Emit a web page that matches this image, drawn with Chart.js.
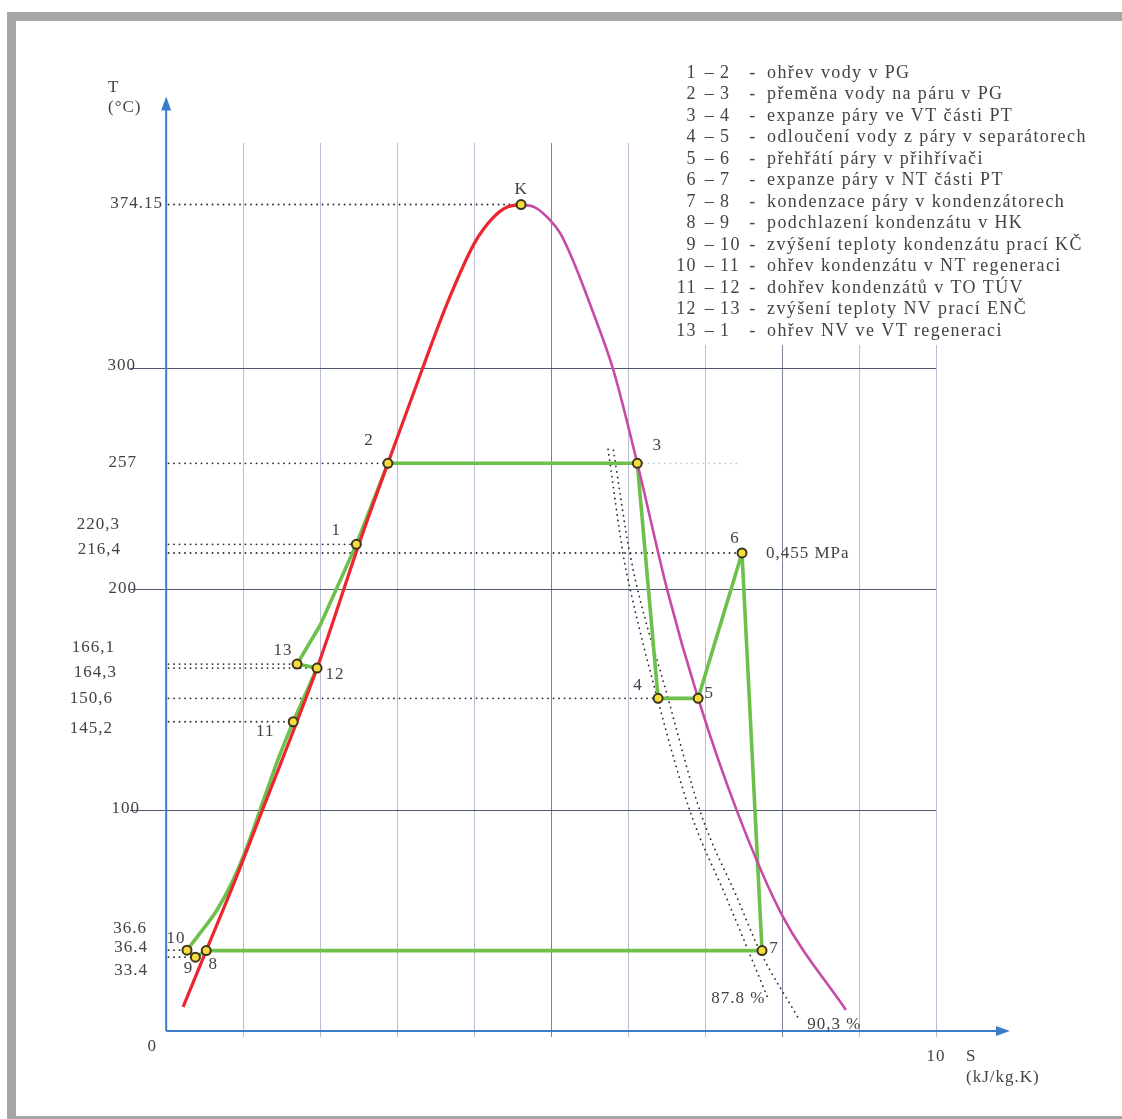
<!DOCTYPE html>
<html>
<head>
<meta charset="utf-8">
<title>T-s diagram</title>
<script src="https://cdn.jsdelivr.net/npm/chart.js@4.4.1/dist/chart.umd.min.js"></script>
<style>
  html, body { margin: 0; padding: 0; background: #fff; }
  #wrap { width: 1122px; height: 1119px; }
</style>
</head>
<body>
<div id="wrap"><canvas id="ts-chart" width="1122" height="1119"></canvas></div>
<script>
// saturated liquid line (s in kJ/kg.K, T in °C)
const liquidS = [0.22, 0.52, 0.87, 1.25, 1.96, 2.52, 2.88, 3.32, 3.65, 4.01, 4.25, 4.43, 4.61];
const liquidT = [10.9, 36.4, 66, 100, 164.3, 222, 257, 299, 329.4, 357, 368.3, 373, 374.15];

// saturated vapour line
const vapourS = [4.61, 4.79, 4.99, 5.12, 5.29, 5.55, 5.81, 6.12, 6.51, 6.91, 7.42, 8.00, 8.83];
const vapourT = [374.15, 372.9, 367, 361.1, 348.4, 324.9, 299.1, 257, 199.5, 150.6, 99.1, 52.5, 9.5];

// state points of the cycle
const stateNames = ['K', '1', '2', '3', '4', '5', '6', '7', '8', '9', '10', '11', '12', '13'];
const stateS = [4.61, 2.47, 2.88, 6.12, 6.39, 6.91, 7.48, 7.74, 0.52, 0.38, 0.27, 1.65, 1.96, 1.70];
const stateT = [374.15, 220.3, 257, 257, 150.6, 150.6, 216.4, 36.4, 36.4, 33.4, 36.6, 140, 164.3, 166.1];

// cycle path 11-12-13-1-2-3-4-5-6-7-8-9-10 (straight parts)
const cycleS = [1.65, 1.96, 1.70, 2.00, 2.47, 2.88, 6.12, 6.39, 6.91, 7.48, 7.74, 0.52, 0.38, 0.27];
const cycleT = [140, 164.3, 166.1, 183.7, 220.3, 257, 257, 150.6, 150.6, 216.4, 36.4, 36.4, 33.4, 36.6];

// curved part 10-11 (NT regeneration)
const regenS = [0.27, 0.44, 0.66, 0.87, 1.05, 1.22, 1.45, 1.65];
const regenT = [36.6, 44.3, 54.8, 68.3, 83.3, 100, 122.6, 140];

// lines of constant dryness
const dry878S = [5.74, 5.94, 6.03, 6.38, 6.81, 7.29, 7.81];
const dry878T = [263.3, 214.9, 199.5, 150.6, 99, 59.3, 15.4];
const dry903S = [5.81, 6.03, 6.52, 6.94, 7.43, 7.71, 8.21];
const dry903T = [262.9, 214.9, 150.6, 99, 59.3, 36.4, 5.9];

// dotted guides from the T axis to these states
const guideStates = ['K', '2', '1', '6', '13', '12', '4', '11', '10', '9'];
const faintGuideS = [6.12, 7.42];
const faintGuideT = [257, 257];

// axis labels
const sTicks = [0, 1, 2, 3, 4, 5, 6, 7, 8, 9, 10];
const tGrid = [100, 200, 300];
const tLabelValues = [374.15, 300, 257, 220.3, 216.4, 200, 166.1, 164.3, 150.6, 145.2, 100, 36.6, 36.4, 33.4];
const tLabels = ['374.15', '300', '257', '220,3', '216,4', '200', '166,1', '164,3', '150,6', '145,2', '100', '36.6', '36.4', '33.4'];

// legend
const legendFrom = ['1', '2', '3', '4', '5', '6', '7', '8', '9', '10', '11', '12', '13'];
const legendTo = ['2', '3', '4', '5', '6', '7', '8', '9', '10', '11', '12', '13', '1'];
const legendText = [
    'ohřev vody v PG',
    'přeměna vody na páru v PG',
    'expanze páry ve VT části PT',
    'odloučení vody z páry v separátorech',
    'přehřátí páry v přihřívači',
    'expanze páry v NT části PT',
    'kondenzace páry v kondenzátorech',
    'podchlazení kondenzátu v HK',
    'zvýšení teploty kondenzátu prací KČ',
    'ohřev kondenzátu v NT regeneraci',
    'dohřev kondenzátů v TO TÚV',
    'zvýšení teploty NV prací ENČ',
    'ohřev NV ve VT regeneraci'
];

function pts(xs, ys) {
    return xs.map((x, i) => ({ x: x, y: ys[i] }));
}

const FONT = '17px "Liberation Serif", "Times New Roman", serif';
const LEGEND_FONT = '18px "Liberation Serif", "Times New Roman", serif';
const TEXT = '#434343';

// label nudges (px) so the scanned layout is kept
const tLabelPlace = {
    '374.15': [163, -1], '300': [136, -3], '257': [137, -1], '220,3': [120, -20],
    '216,4': [121, -3], '200': [137, -1], '166,1': [115, -17], '164,3': [117, 4],
    '150,6': [113, 0], '145,2': [113, 18], '100': [140, -2], '36.6': [147, -22],
    '36.4': [148, -3], '33.4': [148, 13]
};
const stateLabelOffset = {
    'K': [0, -15], '1': [-20, -14], '2': [-19, -23], '3': [20, -18], '4': [-20, -13],
    '5': [11, -5], '6': [-7, -14], '7': [12, -2], '8': [7, 14], '9': [-7, 11],
    '10': [-11, -12], '11': [-28, 10], '12': [18, 6], '13': [-14, -14]
};

const tsDecor = {
    id: 'tsDecor',
    beforeDraw(chart) {
        const ctx = chart.ctx;
        ctx.save();
        ctx.fillStyle = '#fff';
        ctx.fillRect(0, 0, chart.width, chart.height);
        ctx.fillStyle = '#a6a6a6';
        ctx.fillRect(7, 12, chart.width - 7, 9);
        ctx.fillRect(7, 12, 9, chart.height - 12);
        ctx.fillRect(7, chart.height - 3, chart.width - 7, 3);
        ctx.restore();
    },
    afterDatasetsDraw(chart) {
        const ctx = chart.ctx;
        const xs = chart.scales.x, ys = chart.scales.y;
        const x0 = xs.getPixelForValue(0), y0 = ys.getPixelForValue(0);
        const yTop = ys.getPixelForValue(423);
        const xEnd = xs.getPixelForValue(10.96);
        ctx.save();
        ctx.strokeStyle = '#3b7bcb';
        ctx.fillStyle = '#3b7bcb';
        ctx.lineWidth = 2;
        ctx.beginPath();
        ctx.moveTo(x0, y0);
        ctx.lineTo(x0, yTop + 10);
        ctx.moveTo(x0, y0);
        ctx.lineTo(xEnd - 10, y0);
        ctx.stroke();
        ctx.beginPath();
        ctx.moveTo(x0, yTop);
        ctx.lineTo(x0 - 5, yTop + 14);
        ctx.lineTo(x0 + 5, yTop + 14);
        ctx.closePath();
        ctx.moveTo(xEnd, y0);
        ctx.lineTo(xEnd - 14, y0 - 5);
        ctx.lineTo(xEnd - 14, y0 + 5);
        ctx.closePath();
        ctx.fill();
        ctx.restore();
    },
    afterDraw(chart) {
        const ctx = chart.ctx;
        const xs = chart.scales.x, ys = chart.scales.y;
        ctx.save();
        ctx.font = FONT;
        ctx.fillStyle = TEXT;
        ctx.textBaseline = 'middle';
        ctx.letterSpacing = '1px';

        // T axis labels
        ctx.textAlign = 'right';
        tLabels.forEach((lab, i) => {
            const p = tLabelPlace[lab];
            ctx.fillText(lab, p[0], ys.getPixelForValue(tLabelValues[i]) + p[1]);
        });

        // axis names
        ctx.textAlign = 'left';
        ctx.fillText('T', 108, 88);
        ctx.fillText('(°C)', 108, 108);
        ctx.fillText('S', 966, 1057);
        ctx.fillText('(kJ/kg.K)', 966, 1078);
        ctx.textAlign = 'center';
        ctx.fillText('0', xs.getPixelForValue(0) - 14, ys.getPixelForValue(0) + 16);
        ctx.fillText('10', xs.getPixelForValue(10), ys.getPixelForValue(0) + 26);

        // state labels
        stateNames.forEach((n, i) => {
            const o = stateLabelOffset[n];
            ctx.fillText(n, xs.getPixelForValue(stateS[i]) + o[0], ys.getPixelForValue(stateT[i]) + o[1]);
        });

        // pressure and dryness notes
        const i6 = stateNames.indexOf('6');
        ctx.textAlign = 'left';
        ctx.fillText('0,455 MPa', xs.getPixelForValue(stateS[i6]) + 24, ys.getPixelForValue(stateT[i6]) + 1);
        const n1 = dry878S.length - 1, n2 = dry903S.length - 1;
        ctx.textAlign = 'right';
        ctx.fillText('87.8 %', xs.getPixelForValue(dry878S[n1]) - 2, ys.getPixelForValue(dry878T[n1]) + 2);
        ctx.textAlign = 'left';
        ctx.fillText('90,3 %', xs.getPixelForValue(dry903S[n2]) + 9, ys.getPixelForValue(dry903T[n2]) + 7);

        // legend block
        ctx.letterSpacing = '0px';
        ctx.fillStyle = '#fff';
        ctx.fillRect(665, 55, 440, 290);
        ctx.fillStyle = TEXT;
        ctx.font = LEGEND_FONT;
        ctx.letterSpacing = '1.4px';
        legendText.forEach((t, i) => {
            const y = 73 + i * 21.5;
            ctx.textAlign = 'right';
            ctx.fillText(legendFrom[i], 697, y);
            ctx.textAlign = 'center';
            ctx.fillText('–', 710, y);
            ctx.fillText('-', 753, y);
            ctx.textAlign = 'left';
            ctx.fillText(legendTo[i], 720, y);
            ctx.fillText(t, 767, y);
        });
        ctx.restore();
    }
};

const dotted = {
    showLine: true,
    pointRadius: 0,
    borderColor: '#2e2e2e',
    borderWidth: 1.8,
    borderDash: [0.1, 5.4],
    borderCapStyle: 'round',
    order: 4
};

const guideSets = guideStates.map(name => {
    const i = stateNames.indexOf(name);
    return Object.assign({}, dotted, {
        data: [{ x: 0.03, y: stateT[i] }, { x: stateS[i], y: stateT[i] }]
    });
});

const green = {
    showLine: true,
    pointRadius: 0,
    borderColor: '#6dc04b',
    borderWidth: 3.6,
    borderJoinStyle: 'round',
    borderCapStyle: 'round',
    order: 2
};

new Chart(document.getElementById('ts-chart'), {
    type: 'scatter',
    data: {
        datasets: [
            {
                data: pts(stateS, stateT),
                showLine: false,
                pointRadius: 4.5,
                pointBackgroundColor: '#f6dd3a',
                pointBorderColor: '#3b3520',
                pointBorderWidth: 2,
                order: 0
            },
            {
                data: pts(liquidS, liquidT),
                showLine: true,
                pointRadius: 0,
                borderColor: '#ec2530',
                borderWidth: 3.2,
                cubicInterpolationMode: 'monotone',
                order: 1
            },
            {
                data: pts(vapourS, vapourT),
                showLine: true,
                pointRadius: 0,
                borderColor: '#c64aa6',
                borderWidth: 2.6,
                cubicInterpolationMode: 'monotone',
                order: 1
            },
            Object.assign({}, green, { data: pts(cycleS, cycleT), tension: 0 }),
            Object.assign({}, green, { data: pts(regenS, regenT), cubicInterpolationMode: 'monotone' }),
            Object.assign({}, dotted, { data: pts(dry878S, dry878T), cubicInterpolationMode: 'monotone' }),
            Object.assign({}, dotted, { data: pts(dry903S, dry903T), cubicInterpolationMode: 'monotone' }),
            Object.assign({}, dotted, { data: pts(faintGuideS, faintGuideT), borderColor: '#c8c8c8' }),
            ...guideSets
        ]
    },
    options: {
        responsive: false,
        animation: false,
        layout: { padding: { left: 130, right: 186, top: 143, bottom: 88 } },
        plugins: {
            legend: { display: false },
            tooltip: { enabled: false }
        },
        scales: {
            x: {
                type: 'linear',
                min: -0.47,
                max: 10,
                afterBuildTicks: scale => { scale.ticks = sTicks.map(v => ({ value: v })); },
                afterFit: scale => { scale.height = 0; },
                ticks: { display: false },
                border: { display: false },
                grid: {
                    color: c => c.tick.value === 0 ? 'rgba(0,0,0,0)' :
                        (c.tick.value === 5 || c.tick.value === 8 ? '#7d8294' : '#b9bfd2'),
                    lineWidth: 1,
                    drawTicks: true,
                    tickLength: 6
                }
            },
            y: {
                type: 'linear',
                min: 0,
                max: 402,
                afterBuildTicks: scale => { scale.ticks = tGrid.map(v => ({ value: v })); },
                afterFit: scale => { scale.width = 0; },
                ticks: { display: false },
                border: { display: false },
                grid: { color: '#4f5872', lineWidth: 1, drawTicks: false }
            }
        }
    },
    plugins: [tsDecor]
});
</script>
</body>
</html>
